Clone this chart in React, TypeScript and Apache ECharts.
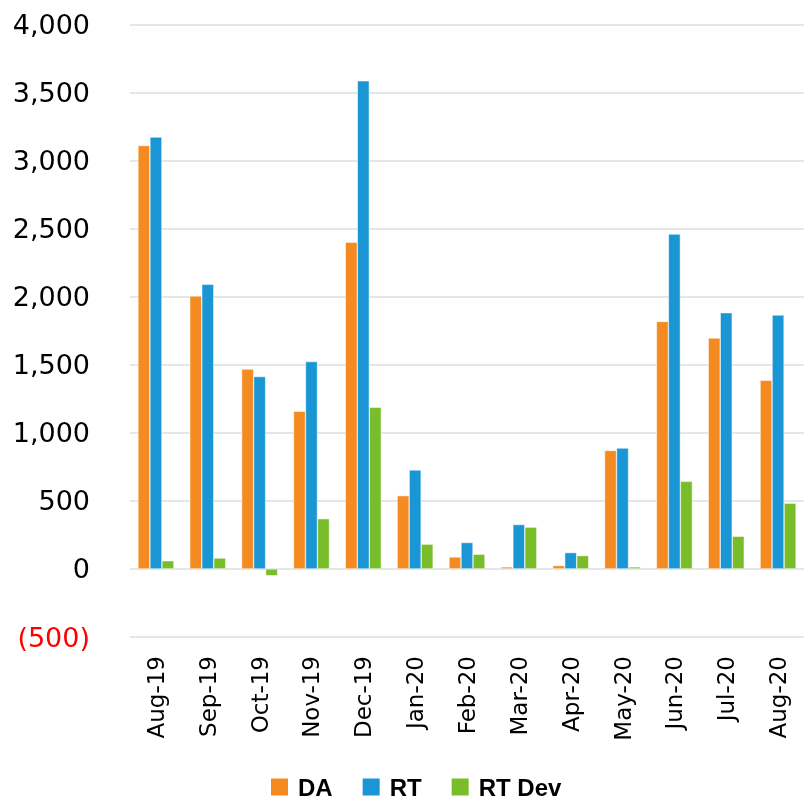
import React, { useEffect, useRef } from "react";
import * as echarts from "echarts";

const categories = ["Aug-19", "Sep-19", "Oct-19", "Nov-19", "Dec-19", "Jan-20", "Feb-20", "Mar-20", "Apr-20", "May-20", "Jun-20", "Jul-20", "Aug-20"];
const daValues = [3110, 2005, 1468, 1158, 2400, 538, 88, 15, 25, 870, 1818, 1696, 1385];
const rtValues = [3172, 2090, 1413, 1523, 3585, 727, 194, 326, 120, 888, 2459, 1882, 1865];
const rtDevValues = [60, 80, -50, 369, 1187, 182, 108, 307, 98, 15, 643, 240, 483];
const seriesNames = ["DA", "RT", "RT Dev"];
const colors = ["#F48A20", "#1A96D4", "#7ABD2A"];

export default function App() {
  const ref = useRef<HTMLDivElement>(null);
  useEffect(() => {
    if (!ref.current) return;
    const chart = echarts.init(ref.current, null, { renderer: "svg" });
    const data = [daValues, rtValues, rtDevValues];
    chart.setOption({
      animation: false,
      grid: { left: 130, right: 0, top: 24.3, bottom: 165, containLabel: false },
      legend: {
        data: seriesNames,
        left: 269,
        top: 775,
        padding: 0,
        itemWidth: 19,
        itemHeight: 19,
        itemGap: 28,
        icon: "rect",
        textStyle: { fontFamily: "Liberation Sans", fontWeight: "bold", fontSize: 24, lineHeight: 24, color: "#000", padding: [0, 0, 0, 4] },
      },
      xAxis: {
        type: "category",
        data: categories,
        axisLine: { show: false },
        axisTick: { show: false },
        axisLabel: {
          rotate: 90,
          margin: 19,
          fontFamily: "DejaVu Sans",
          fontSize: 23,
          color: "#000",
          interval: 0,
        },
      },
      yAxis: {
        type: "value",
        min: -500,
        max: 4000,
        interval: 500,
        axisLine: { show: false },
        axisTick: { show: false },
        splitLine: { lineStyle: { color: "#E4E7E7", width: 2 } },
        axisLabel: {
          margin: 40,
          fontFamily: "DejaVu Sans",
          fontSize: 27,
          color: (v: any) => (Number(v) < 0 ? "#FF0000" : "#000"),
          formatter: (v: number) =>
            v < 0 ? "(" + Math.abs(v).toLocaleString("en-US") + ")" : v.toLocaleString("en-US"),
        },
      },
      series: seriesNames.map((name, i) => ({
        name,
        type: "bar",
        data: data[i],
        barWidth: 12,
        barGap: "0%",
        itemStyle: { color: colors[i], borderColor: "#fff", borderWidth: 0.5 },
      })),
    });
    return () => chart.dispose();
  }, []);
  return <div ref={ref} style={{ position: "fixed", left: 0, top: 0, width: 804, height: 802 }} />;
}
